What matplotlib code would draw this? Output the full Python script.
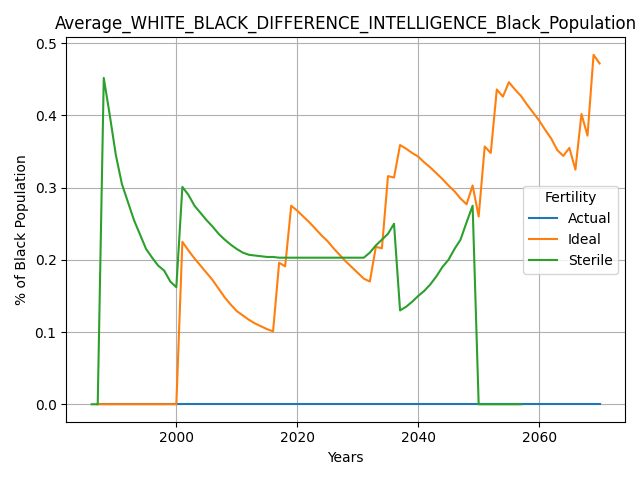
import numpy as np
import matplotlib
matplotlib.use("Agg")
import matplotlib.pyplot as plt

# Actual: all zeros 1987-2070
actual_years = list(range(1987, 2071))
actual_vals = [0.0] * len(actual_years)

# Ideal 1987-2070
ideal_years = list(range(1987, 2071))
ideal_vals = [0.0] * 14 + [
    0.225, 0.213, 0.202, 0.192, 0.182, 0.172, 0.160, 0.148, 0.138, 0.129,
    0.123, 0.117, 0.112, 0.108, 0.104, 0.101, 0.196, 0.191, 0.275, 0.268,
    0.260, 0.252, 0.243, 0.234, 0.226, 0.216, 0.207, 0.198, 0.190, 0.182,
    0.174, 0.170, 0.218, 0.216, 0.316, 0.314, 0.359, 0.354, 0.348, 0.343,
    0.335, 0.328, 0.320, 0.312, 0.303, 0.295, 0.285, 0.277, 0.303, 0.260,
    0.357, 0.348, 0.436, 0.426, 0.446, 0.436, 0.427, 0.415, 0.404, 0.393,
    0.380, 0.368, 0.352, 0.344, 0.355, 0.325, 0.402, 0.372, 0.484, 0.472,
]

# Sterile 1986-2057
sterile_years = list(range(1986, 2058))
sterile_vals = [
    0.0, 0.0, 0.452, 0.400, 0.345, 0.305, 0.280, 0.255, 0.235, 0.215,
    0.203, 0.192, 0.185, 0.170, 0.162, 0.301, 0.290, 0.275, 0.265, 0.255,
    0.246, 0.236, 0.228, 0.221, 0.215, 0.210, 0.207, 0.206, 0.205, 0.204,
    0.204, 0.203, 0.203, 0.203, 0.203, 0.203, 0.203, 0.203, 0.203, 0.203,
    0.203, 0.203, 0.203, 0.203, 0.203, 0.203, 0.210, 0.220, 0.228, 0.236,
    0.250, 0.130, 0.135, 0.142, 0.150, 0.157, 0.166, 0.177, 0.190, 0.200,
    0.215, 0.228, 0.252, 0.275, 0.0, 0.0, 0.0, 0.0, 0.0, 0.0, 0.0, 0.0,
]

fig, ax = plt.subplots(figsize=(6.4, 4.8), dpi=100)
ax.plot(actual_years, actual_vals, label="Actual")
ax.plot(ideal_years, ideal_vals, label="Ideal")
ax.plot(sterile_years, sterile_vals, label="Sterile")
ax.set_title("Average_WHITE_BLACK_DIFFERENCE_INTELLIGENCE_Black_Population")
ax.set_xlabel("Years")
ax.set_ylabel("% of Black Population")
ax.grid(True)
ax.legend(title="Fertility", loc="center right")
fig.tight_layout()
fig.savefig("out.png")
